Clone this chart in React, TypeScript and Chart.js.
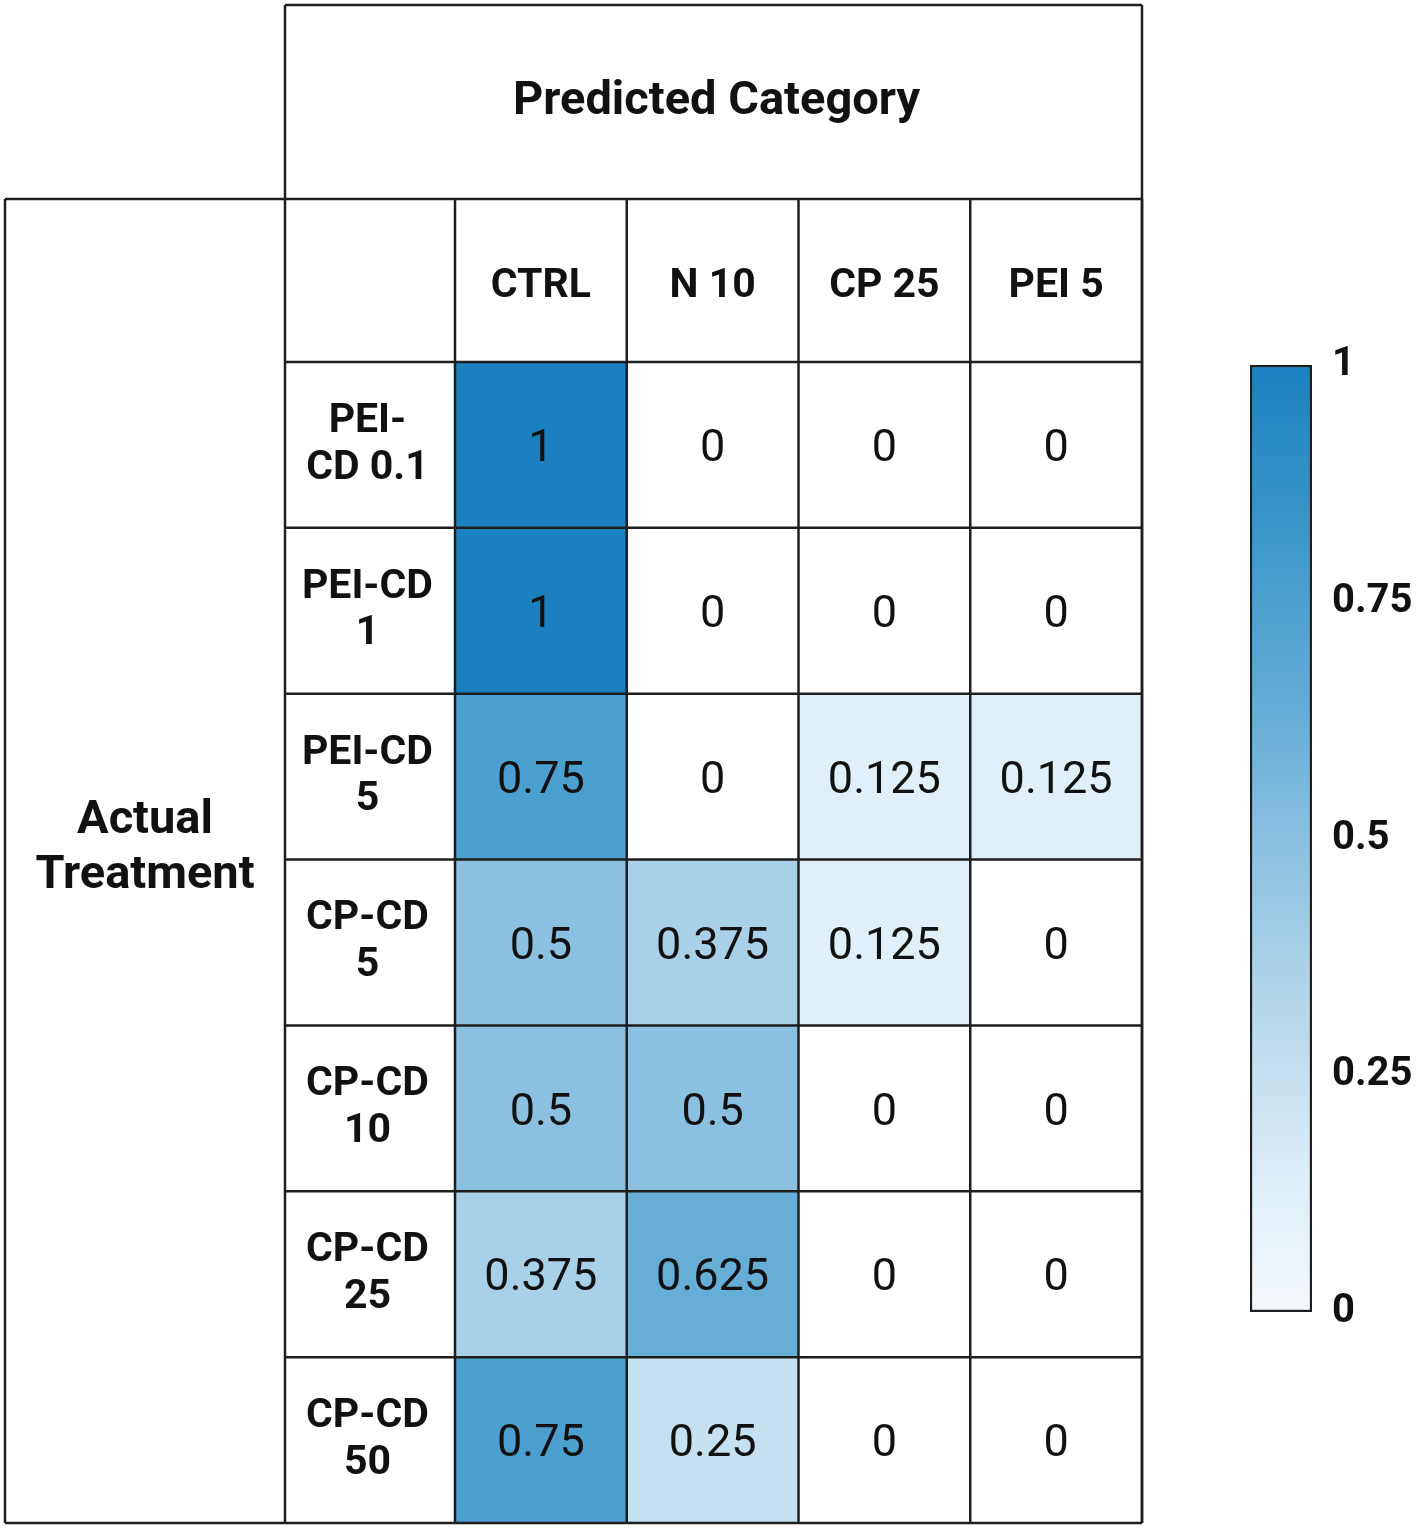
import React, { useEffect, useRef } from 'react';
import { Chart, registerables } from 'chart.js';

Chart.register(...registerables);

// ---- Data ----
const predictedCategories = ['CTRL', 'N 10', 'CP 25', 'PEI 5'];
const actualTreatments = [
  ['PEI-', 'CD 0.1'],
  ['PEI-CD', '1'],
  ['PEI-CD', '5'],
  ['CP-CD', '5'],
  ['CP-CD', '10'],
  ['CP-CD', '25'],
  ['CP-CD', '50'],
];
const peiCd01 = [1, 0, 0, 0];
const peiCd1 = [1, 0, 0, 0];
const peiCd5 = [0.75, 0, 0.125, 0.125];
const cpCd5 = [0.5, 0.375, 0.125, 0];
const cpCd10 = [0.5, 0.5, 0, 0];
const cpCd25 = [0.375, 0.625, 0, 0];
const cpCd50 = [0.75, 0.25, 0, 0];
const matrixRows = [peiCd01, peiCd1, peiCd5, cpCd5, cpCd10, cpCd25, cpCd50];
const colorbarTicks = [0, 0.25, 0.5, 0.75, 1];
const predictedTitle = 'Predicted Category';
const actualTitle = ['Actual', 'Treatment'];

// ---- Colour map ----
const colorStops = [0, 0.125, 0.25, 0.375, 0.5, 0.625, 0.75, 1];
const colorHex = ['#ffffff', '#e0eff8', '#c5e0f0', '#a8d0e8', '#8bc0e1', '#66aed6', '#4ca0d0', '#1a80bf'];

function hexToRgb(h: string) {
  return [parseInt(h.slice(1, 3), 16), parseInt(h.slice(3, 5), 16), parseInt(h.slice(5, 7), 16)];
}
function colorFor(v: number) {
  for (let i = 0; i < colorStops.length - 1; i++) {
    if (v >= colorStops[i] && v <= colorStops[i + 1]) {
      const t = (v - colorStops[i]) / (colorStops[i + 1] - colorStops[i]);
      const a = hexToRgb(colorHex[i]);
      const b = hexToRgb(colorHex[i + 1]);
      const c = a.map((x, k) => Math.round(x + (b[k] - x) * t));
      return `rgb(${c[0]},${c[1]},${c[2]})`;
    }
  }
  return colorHex[colorHex.length - 1];
}

const LINE = '#1e1e1e';
const TEXT = '#111111';
const FONT = 'Roboto';

const tablePlugin = {
  id: 'tableFrame',
  afterDraw(chart: any) {
    const { ctx, chartArea, scales } = chart;
    const xs = scales.x;
    const ys = scales.y;
    const outerTop = 5;
    const outerLeft = 5;
    const tableLeft = ys.left;
    const headTop = xs.top;
    const right = chartArea.right;
    const bottom = chartArea.bottom;
    const colW = xs.getPixelForValue(1) - xs.getPixelForValue(0);

    ctx.save();
    ctx.strokeStyle = LINE;
    ctx.lineWidth = 2.5;
    const line = (x1: number, y1: number, x2: number, y2: number) => {
      ctx.beginPath();
      ctx.moveTo(x1, y1);
      ctx.lineTo(x2, y2);
      ctx.stroke();
    };
    // title box
    line(tableLeft, outerTop, right, outerTop);
    line(tableLeft, outerTop, tableLeft, bottom);
    line(right, outerTop, right, bottom);
    // header top line, incl. left box
    line(outerLeft, headTop, right, headTop);
    line(outerLeft, headTop, outerLeft, bottom);
    // row lines
    for (let k = 0; k <= matrixRows.length; k++) {
      const y = ys.getPixelForValue(k);
      line(k === matrixRows.length ? outerLeft : tableLeft, y, right, y);
    }
    // column lines
    for (let c = 0; c <= predictedCategories.length; c++) {
      const x = xs.getPixelForValue(c) - colW / 2;
      line(x, headTop, x, bottom);
    }

    // cell values
    ctx.fillStyle = TEXT;
    ctx.textAlign = 'center';
    ctx.textBaseline = 'middle';
    ctx.font = `400 45px ${FONT}`;
    matrixRows.forEach((row, r) => {
      const meta = chart.getDatasetMeta(r);
      row.forEach((v, c) => {
        const el = meta.data[c];
        ctx.fillText(String(v), el.x, (el.y + el.base) / 2 + 5);
      });
    });

    // titles
    ctx.font = `700 47px ${FONT}`;
    ctx.fillText(predictedTitle, (tableLeft + right) / 2 + 3, (outerTop + headTop) / 2);
    ctx.font = `700 47px ${FONT}`;
    const cx = (outerLeft + tableLeft) / 2;
    const cy = (headTop + bottom) / 2 - 13;
    ctx.fillText(actualTitle[0], cx, cy - 27);
    ctx.fillText(actualTitle[1], cx, cy + 28);
    ctx.restore();
  },
};

export default function App() {
  const mainRef = useRef<HTMLCanvasElement>(null);
  const barRef = useRef<HTMLCanvasElement>(null);

  useEffect(() => {
    let main: Chart | null = null;
    let bar: Chart | null = null;
    let cancelled = false;
    Chart.defaults.font.family = FONT;

    const build = () => {
      if (cancelled || !mainRef.current || !barRef.current) return;
      main = new Chart(mainRef.current, {
        type: 'bar',
        data: {
          labels: predictedCategories,
          datasets: matrixRows.map((row, r) => ({
            label: actualTreatments[r].join(' '),
            data: row.map(() => [r, r + 1]),
            backgroundColor: row.map(colorFor),
            borderWidth: 0,
            grouped: false,
            barPercentage: 1,
            categoryPercentage: 1,
          })) as any,
        },
        options: {
          responsive: false,
          animation: false,
          layout: { padding: { left: 285, top: 199, right: 275, bottom: 5 } },
          plugins: { legend: { display: false }, tooltip: { enabled: false } },
          scales: {
            x: {
              type: 'category',
              position: 'top',
              offset: true,
              grid: { display: false },
              border: { display: false },
              ticks: {
                font: { size: 41, weight: 'bold', family: FONT },
                color: TEXT,
                padding: 43,
                maxRotation: 0,
                autoSkip: false,
              },
              afterFit: (s: any) => {
                s.height = 163;
                s.paddingLeft = 0;
                s.paddingRight = 0;
              },
            },
            y: {
              type: 'linear',
              min: 0,
              max: matrixRows.length,
              reverse: true,
              grid: { display: false },
              border: { display: false },
              afterBuildTicks: (s: any) => {
                s.ticks = actualTreatments.map((_, i) => ({ value: i + 0.5 }));
              },
              ticks: {
                callback: (v: any) => actualTreatments[Math.floor(Number(v))],
                font: { size: 41, weight: 'bold', family: FONT, lineHeight: 1.14 },
                color: TEXT,
                crossAlign: 'center',
                padding: 14,
                autoSkip: false,
              },
              afterFit: (s: any) => {
                s.width = 170;
                s.paddingTop = 0;
                s.paddingBottom = 0;
              },
            },
          },
        } as any,
        plugins: [tablePlugin],
      });

      bar = new Chart(barRef.current, {
        type: 'bar',
        data: {
          labels: [''],
          datasets: [
            {
              data: [[0, 1]] as any,
              backgroundColor: (c: any) => {
                const area = c.chart.chartArea;
                if (!area) return colorHex[colorHex.length - 1];
                const g = c.chart.ctx.createLinearGradient(0, area.bottom, 0, area.top);
                colorStops.forEach((s, i) => g.addColorStop(s, i === 0 ? '#f5f9fd' : colorHex[i]));
                return g;
              },
              borderColor: LINE,
              borderWidth: 2.5,
              borderSkipped: false,
              barPercentage: 1,
              categoryPercentage: 1,
            } as any,
          ],
        },
        options: {
          responsive: false,
          animation: false,
          layout: { padding: { left: 20, right: 5, top: 45, bottom: 38 } },
          plugins: { legend: { display: false }, tooltip: { enabled: false } },
          scales: {
            x: { display: false },
            y: {
              position: 'right',
              min: 0,
              max: 1,
              grid: { display: false },
              border: { display: false },
              afterBuildTicks: (s: any) => {
                s.ticks = colorbarTicks.map((v) => ({ value: v }));
              },
              ticks: {
                font: { size: 40, weight: 'bold', family: FONT },
                color: TEXT,
                padding: 12,
                callback: (v: any) => String(v),
                autoSkip: false,
              },
              afterFit: (s: any) => {
                s.width = 100;
                s.paddingTop = 0;
                s.paddingBottom = 0;
              },
            },
          },
        } as any,
      });
    };

    const fonts = (document as any).fonts;
    if (fonts && fonts.load) {
      Promise.all([fonts.load(`700 40px ${FONT}`), fonts.load(`400 44px ${FONT}`)])
        .catch(() => null)
        .then(build);
    } else {
      build();
    }

    return () => {
      cancelled = true;
      if (main) main.destroy();
      if (bar) bar.destroy();
    };
  }, []);

  return (
    <div style={{ position: 'absolute', left: 0, top: 0, width: 1417, height: 1528, background: '#ffffff' }}>
      <canvas
        ref={mainRef}
        width={1417}
        height={1528}
        style={{ position: 'absolute', left: 0, top: 0, width: 1417, height: 1528 }}
      />
      <canvas
        ref={barRef}
        width={187}
        height={1030}
        style={{ position: 'absolute', left: 1230, top: 320, width: 187, height: 1030 }}
      />
    </div>
  );
}
